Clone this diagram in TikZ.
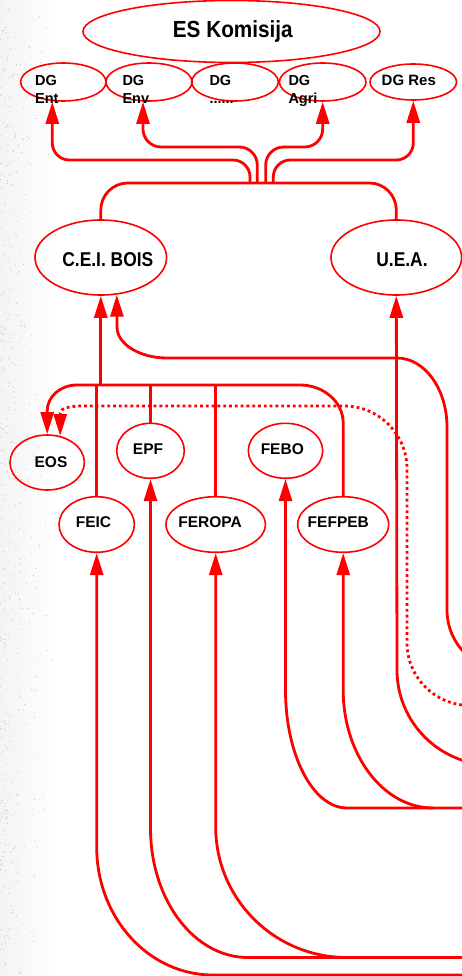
\documentclass[tikz,border=0pt]{standalone}
\usepackage{fontspec}
\setmainfont{Liberation Sans}
\newfontfamily\narrowA{Liberation Sans}[FakeStretch=0.89]
\newfontfamily\narrowB{Liberation Sans}[FakeStretch=0.87]
\usetikzlibrary{arrows.meta,shapes.geometric,calc}
\begin{document}
\begin{tikzpicture}[x=1pt,y=-1pt,
  ell/.style={ellipse, draw=red, line width=1.6pt, inner sep=0pt},
  conn/.style={draw=red, line width=2.8pt},
  tip/.style={-{Triangle[length=22pt,width=13pt]}},
  dotline/.style={dash pattern=on 2.8pt off 3pt},
  lab/.style={font=\bfseries\fontsize{15.5}{18}\selectfont, inner sep=0pt, text=black, anchor=base},
  dglab/.style={font=\bfseries\fontsize{14.5}{18}\selectfont, inner sep=0pt, text=black, align=left, anchor=north west},
  biglab/.style={font=\narrowB\bfseries\fontsize{20}{22}\selectfont, inner sep=0pt, text=black, anchor=base}]
\useasboundingbox (0,0) rectangle (462,976);
\clip (0,0) rectangle (462,976);
% textured left strip
\fill[left color=gray!9, right color=white] (0,0) rectangle (58,976);
\pgfmathsetseed{7}
\foreach \i in {1,...,420}{
  \pgfmathsetmacro\rx{58*rnd*rnd}
  \pgfmathsetmacro\ry{976*rnd}
  \fill[gray!45] (\rx,\ry) circle (0.6pt);
}
% ellipses
\node[ell, minimum width=297pt, minimum height=62pt] (es) at (231.5,31.5) {};
\node[ell, minimum width=85.4pt, minimum height=38pt] (dgent) at (63.3,82) {};
\node[ell, minimum width=86pt, minimum height=38pt] (dgenv) at (149,82) {};
\node[ell, minimum width=86.6pt, minimum height=38pt] (dgdots) at (235,82) {};
\node[ell, minimum width=86.6pt, minimum height=38pt] (dgagri) at (322.7,82) {};
\node[ell, minimum width=86.6pt, minimum height=36pt] (dgres) at (413.3,82) {};
\node[ell, minimum width=131.6pt, minimum height=75pt] (cei) at (100.8,257.5) {};
\node[ell, minimum width=130.6pt, minimum height=75pt] (uea) at (396.3,257.5) {};
\node[ell, minimum width=74.4pt, minimum height=55pt] (eos) at (47.2,462.5) {};
\node[ell, minimum width=67.6pt, minimum height=55pt] (epf) at (150.5,450.8) {};
\node[ell, minimum width=74.4pt, minimum height=55pt] (febo) at (285.5,450.8) {};
\node[ell, minimum width=75.4pt, minimum height=55.6pt] (feic) at (96.7,524.5) {};
\node[ell, minimum width=99.4pt, minimum height=55.6pt] (feropa) at (215.7,524.5) {};
\node[ell, minimum width=91pt, minimum height=55.6pt] (fefpeb) at (343.2,524.5) {};
% bar between C.E.I. BOIS and U.E.A.
\coordinate (bar) at (0,183);
\draw[conn, rounded corners=27pt] (cei.north) -- (cei.north |- bar) -- (uea.north |- bar) -- (uea.north);
% arrows to the DGs
\draw[conn, tip, rounded corners=17pt] (250,183) -- (250,160) -- (52.3,160) -- ($(dgent.south)+(-11,0)$);
\draw[conn, tip, rounded corners=18pt] (257.3,183) -- (257.3,147) -- (143,147) -- ($(dgenv.south)+(-6,0)$);
\draw[conn, tip, rounded corners=18pt] (265.7,183) -- (265.7,147) -- (322.7,147) -- (dgagri.south);
\draw[conn, tip, rounded corners=17pt] (273.3,183) -- (273.3,160) -- (413.3,160) -- (dgres.south);
% junction of the federations
\coordinate (jn) at (0,385);
\draw[conn, tip] (fefpeb.north) -- (343.2,423) .. controls (343.2,402) and (323.7,385) .. (300,385) -- (77,385) .. controls (60.4,385) and (47.2,396.5) .. (47.2,411) -- (eos.north);
\draw[conn] (feic.north) -- (feic.north |- jn);
\draw[conn] (epf.north) -- (epf.north |- jn);
\draw[conn] (feropa.north) -- (feropa.north |- jn);
\draw[conn, tip] (cei.south |- jn) -- (cei.south);
% long arrow into C.E.I. BOIS
\coordinate (eR1) at (520,671);
\draw[conn, tip] (eR1) -- (508,671) .. controls (474.3,671) and (447,643.7) .. (447,610) -- (447,427) .. controls (447,389) and (424.6,358) .. (397,358) -- (167,358) .. controls (139.4,358) and (117,344) .. (117,327) -- ($(cei.south)+(16,-1.1)$);
% arrow into U.E.A.
\coordinate (eR2) at (520,765);
\draw[conn, tip] (eR2) -- (492,765) .. controls (439.6,765) and (397,722.4) .. (397,670) -- (uea.south);
% dotted arrow into EOS
\coordinate (eR3) at (520,705.4);
\draw[conn, dotline, tip] (eR3) -- (469.4,705.4) .. controls (435,705.4) and (407,677) .. (407,643) -- (407,469) .. controls (407,434.2) and (378.8,406) .. (344,406) -- (83,406) .. controls (70,406) and (60.2,408) .. (60.2,413) -- ($(eos.north)+(13,1.8)$);
% arrows from below into the federations
\coordinate (eB1) at (520,975);
\draw[conn, tip] (eB1) -- (213,975) .. controls (148.4,975) and (96.7,917.7) .. (96.7,847) -- (feic.south);
\coordinate (eB2) at (520,957.5);
\draw[conn, tip] (eB2) -- (248,957.5) .. controls (193.9,957.5) and (150.5,899.8) .. (150.5,828) -- (epf.south);
\coordinate (mB2) at (347,957.5);
\draw[conn, tip] (mB2) .. controls (274.1,957.5) and (215.7,898.8) .. (215.7,827) -- (feropa.south);
\coordinate (eB3) at (520,808);
\draw[conn, tip] (eB3) -- (347,808) .. controls (313,808) and (285.5,755) .. (285.5,690) -- (febo.south);
\coordinate (mB3) at (433,808);
\draw[conn, tip] (mB3) .. controls (383.4,808) and (343.2,755) .. (343.2,690) -- (fefpeb.south);
% texts
\node[biglab, font=\narrowA\bfseries\fontsize{23.3}{26}\selectfont] (esT) at (232.8,37.7) {ES Komisija};
\node[dglab] (dgentT) at (35,75.5) {DG\\Ent};
\node[dglab] (dgenvT) at (122.3,75.5) {DG\\Env};
\node[dglab] (dgdotsT) at (209.3,75.5) {DG\\......};
\node[dglab] (dgagriT) at (288.3,75.5) {DG\\Agri};
\node[lab, font=\bfseries\fontsize{15}{18}\selectfont] (dgresT) at (408.8,85.5) {DG Res};
\node[biglab] (ceiT) at (107.8,266) {C.E.I. BOIS};
\node[biglab] (ueaT) at (402,266) {U.E.A.};
\node[lab] (eosT) at (51,467.5) {EOS};
\node[lab] (epfT) at (148,454.5) {EPF};
\node[lab] (feboT) at (282.3,454.5) {FEBO};
\node[lab] (feicT) at (93.5,527.7) {FEIC};
\node[lab] (feropaT) at (210,527.7) {FEROPA};
\node[lab] (fefpebT) at (338.3,527.7) {FEFPEB};
\end{tikzpicture}
\end{document}
